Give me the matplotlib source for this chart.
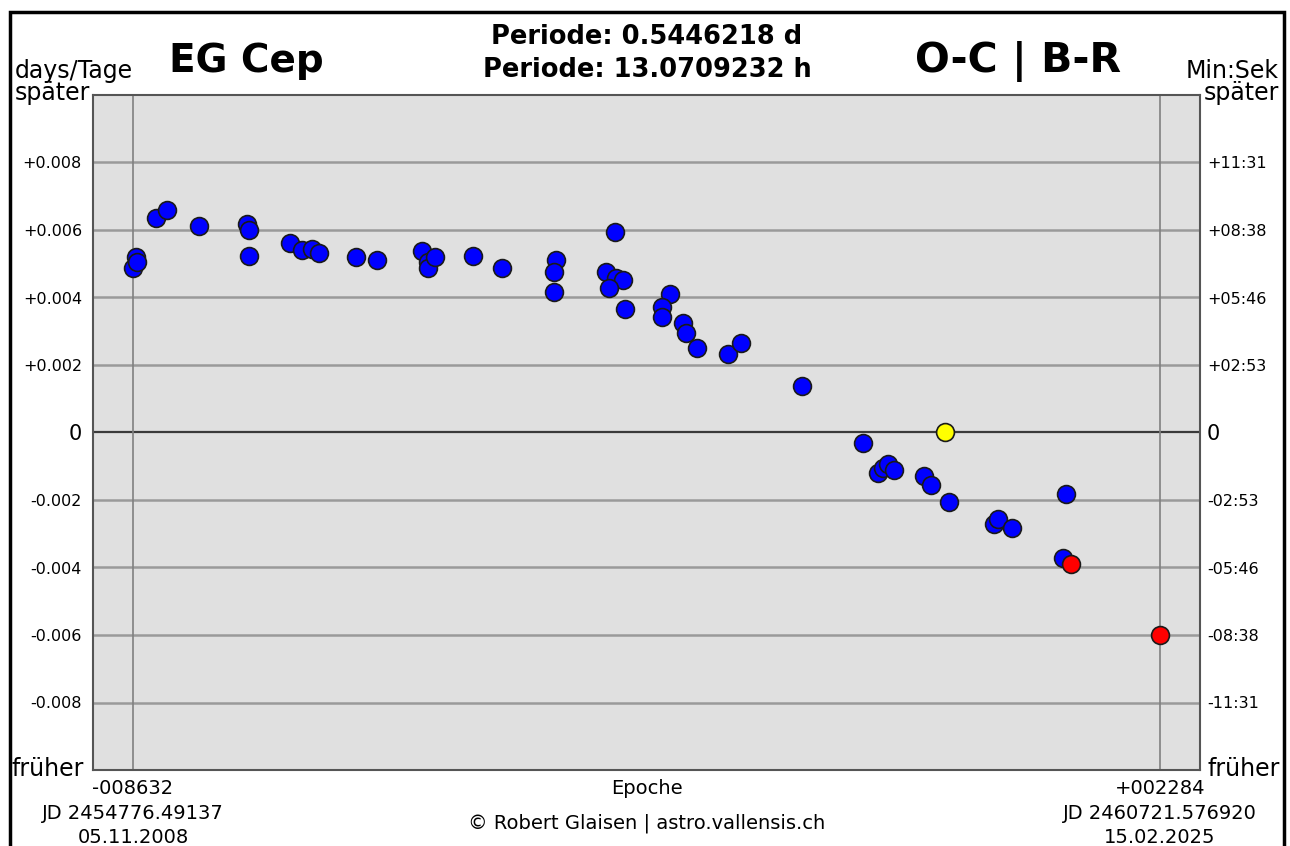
import matplotlib.pyplot as plt
from matplotlib.patches import Rectangle

# O-C data (epoch, days)
blue_epoch = [-8632, -8600, -8589, -8388, -8271, -7930, -7420, -7399, -7399,
              -6963, -6836, -6729, -6655, -6262, -6038, -5560, -5496, -5496, -5422,
              -5018, -4710, -4136, -4157, -4157, -3509, -3604, -3498, -3424, -3573, -3403,
              -2924, -3009, -3009, -2786, -2754, -2637, -2308, -2170, -1521,
              -873, -713, -660, -607, -543, -224, -150, 41,
              519, 562, 711, 1285, 1253]
blue_oc = [0.00486, 0.00519, 0.00504, 0.00637, 0.00658, 0.00613, 0.00619, 0.00599, 0.00524,
           0.00560, 0.00542, 0.00545, 0.00533, 0.00519, 0.00510, 0.00539, 0.00504, 0.00486, 0.00519,
           0.00524, 0.00486, 0.00510, 0.00477, 0.00415, 0.00593, 0.00477, 0.00459, 0.00453, 0.00427, 0.00367,
           0.00409, 0.00373, 0.00341, 0.00323, 0.00296, 0.00249, 0.00234, 0.00264, 0.00139,
           -0.00030, -0.00121, -0.00104, -0.00092, -0.00110, -0.00130, -0.00157, -0.00207,
           -0.00270, -0.00255, -0.00284, -0.00181, -0.00373]
ref_epoch = [0]
ref_oc = [0.0]
red_epoch = [1338, 2284]
red_oc = [-0.00391, -0.00599]

yticks = [0.008, 0.006, 0.004, 0.002, 0, -0.002, -0.004, -0.006, -0.008]
left_labels = ['+0.008', '+0.006', '+0.004', '+0.002', '0', '-0.002', '-0.004', '-0.006', '-0.008']
right_labels = ['+11:31', '+08:38', '+05:46', '+02:53', '0', '-02:53', '-05:46', '-08:38', '-11:31']

first_epoch, last_epoch = -8632, 2284

fig = plt.figure(figsize=(12.9, 8.46), dpi=100)
ax = fig.add_axes([93 / 1290, 1 - 770 / 846, 1107 / 1290, 675 / 846])
ax.set_facecolor('#e0e0e0')

pad = (last_epoch - first_epoch) * 0.0389
ax.set_xlim(first_epoch - pad, last_epoch + pad)
ax.set_ylim(-0.01, 0.01)

for v in yticks:
    ax.axhline(v, color='#3a3a3a' if v == 0 else '#9a9a9a', lw=1.6 if v == 0 else 1.8, zorder=1)
for e in (first_epoch, last_epoch):
    ax.axvline(e, color='#808080', lw=1.2, zorder=1)

ax.scatter(blue_epoch, blue_oc, s=165, c='#0000ff', edgecolors='#1a1a1a', linewidths=1.2, zorder=3)
ax.scatter(ref_epoch, ref_oc, s=165, c='#ffff00', edgecolors='#1a1a1a', linewidths=1.2, zorder=3)
ax.scatter(red_epoch, red_oc, s=165, c='#ff0000', edgecolors='#1a1a1a', linewidths=1.2, zorder=4)

ax.set_xticks([])
ax.set_yticks(yticks)
ax.set_yticklabels(left_labels, fontsize=11.5)
ax.tick_params(axis='y', length=0, pad=8)
for s in ax.spines.values():
    s.set_color('#555555')
    s.set_linewidth(1.5)

ax2 = ax.twinx()
ax2.set_ylim(ax.get_ylim())
ax2.set_yticks(yticks)
ax2.set_yticklabels(right_labels, fontsize=11.5)
ax2.tick_params(axis='y', length=0, pad=5)
for s in ax2.spines.values():
    s.set_visible(False)

for lab in (ax.get_yticklabels()[4], ax2.get_yticklabels()[4]):
    lab.set_fontsize(15)

# outer frame
fig.patches.append(Rectangle((10 / 1290, -0.05), 1274 / 1290, 1.05 - 12 / 846,
                             transform=fig.transFigure, fill=False, edgecolor='black', lw=2.5))

def fx(px):
    return px / 1290

def fy(py):
    return 1 - py / 846

fig.text(fx(246), fy(72), 'EG Cep', fontsize=28, fontweight='bold', ha='center', va='baseline')
fig.text(fx(1018), fy(72), 'O-C | B-R', fontsize=29.5, fontweight='bold', ha='center', va='baseline')
fig.text(fx(647), fy(44), 'Periode: 0.5446218 d', fontsize=18.5, fontweight='bold', ha='center', va='baseline')
fig.text(fx(647), fy(77), 'Periode: 13.0709232 h', fontsize=18.5, fontweight='bold', ha='center', va='baseline')

fig.text(fx(15), fy(78), 'days/Tage', fontsize=17, ha='left', va='baseline')
fig.text(fx(15), fy(100), 'später', fontsize=17, ha='left', va='baseline')
fig.text(fx(1279), fy(78), 'Min:Sek', fontsize=17, ha='right', va='baseline')
fig.text(fx(1279), fy(100), 'später', fontsize=17, ha='right', va='baseline')
fig.text(fx(12), fy(776), 'früher', fontsize=17, ha='left', va='baseline')
fig.text(fx(1280), fy(776), 'früher', fontsize=17, ha='right', va='baseline')

fig.text(fx(133), fy(794), '-008632', fontsize=14, ha='center', va='baseline')
fig.text(fx(133), fy(819), 'JD 2454776.49137', fontsize=14, ha='center', va='baseline')
fig.text(fx(133), fy(843), '05.11.2008', fontsize=14, ha='center', va='baseline')
fig.text(fx(647), fy(794), 'Epoche', fontsize=14, ha='center', va='baseline')
fig.text(fx(647), fy(828), '© Robert Glaisen | astro.vallensis.ch', fontsize=14, ha='center', va='baseline')
fig.text(fx(1160), fy(794), '+002284', fontsize=14, ha='center', va='baseline')
fig.text(fx(1160), fy(819), 'JD 2460721.576920', fontsize=14, ha='center', va='baseline')
fig.text(fx(1160), fy(843), '15.02.2025', fontsize=14, ha='center', va='baseline')

fig.savefig('out.png', dpi=100, facecolor='white')
